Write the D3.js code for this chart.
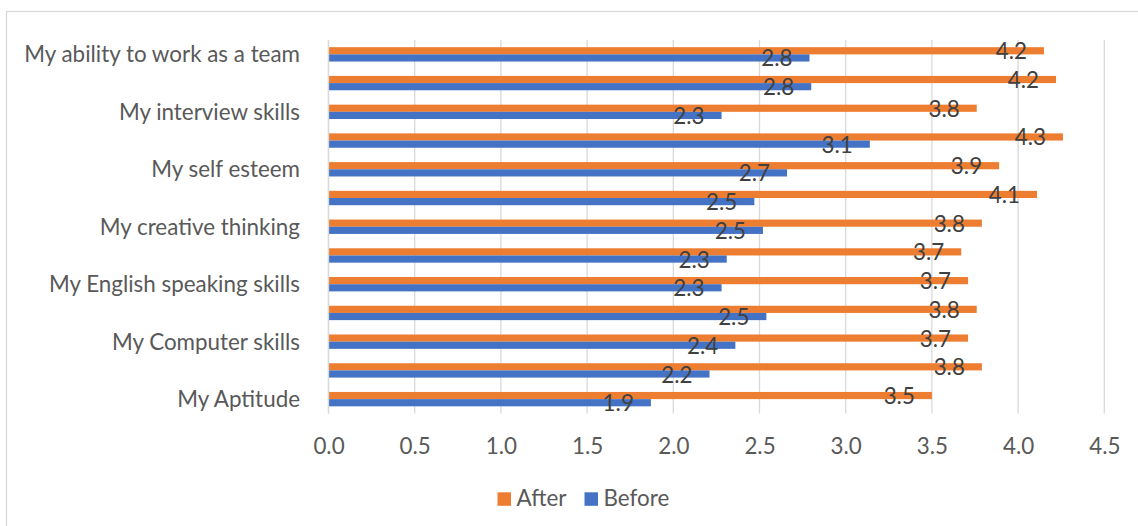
<!DOCTYPE html>
<html>
<head>
<meta charset="utf-8">
<script src="https://cdn.jsdelivr.net/npm/d3@7"></script>
<style>
  html, body { margin: 0; padding: 0; background: #fff; }
  svg { display: block; font-family: Lato, "Noto Sans", sans-serif; }
</style>
</head>
<body>
<svg id="chart" width="1138" height="526"></svg>
<script>
// Category labels (top to bottom); every other label is not shown in the original chart
const categories = [
  "My ability to work as a team", "",
  "My interview skills", "",
  "My self esteem", "",
  "My creative thinking", "",
  "My English speaking skills", "",
  "My Computer skills", "",
  "My Aptitude"
];
const seriesNames = ["After", "Before"];
const afterValues  = [4.15, 4.22, 3.76, 4.26, 3.89, 4.11, 3.79, 3.67, 3.71, 3.76, 3.71, 3.79, 3.50];
const beforeValues = [2.79, 2.80, 2.28, 3.14, 2.66, 2.47, 2.52, 2.31, 2.28, 2.54, 2.36, 2.21, 1.87];
const xTicks = [0, 0.5, 1, 1.5, 2, 2.5, 3, 3.5, 4, 4.5];

const colors = { After: "#ED7D31", Before: "#4472C4" };
const svg = d3.select("#chart");
const FS = 22.4;

// chart border
svg.append("rect")
  .attr("x", 6.5).attr("y", 11.5)
  .attr("width", 1200).attr("height", 600)
  .attr("fill", "none").attr("stroke", "#d9d9d9").attr("stroke-width", 1.3);

const plot = { left: 328.5, right: 1104.3, top: 40, bottom: 413.5 };

const x = d3.scaleLinear().domain([0, 4.5]).range([plot.left, plot.right]);
const y = d3.scaleBand()
  .domain(d3.range(categories.length))
  .range([plot.top, plot.bottom])
  .paddingInner(0.5).paddingOuter(0.25);
const ySub = d3.scaleBand().domain(seriesNames).range([0, y.bandwidth()]);

// gridlines
svg.append("g").selectAll("line").data(xTicks).join("line")
  .attr("x1", d => x(d)).attr("x2", d => x(d))
  .attr("y1", plot.top).attr("y2", plot.bottom)
  .attr("stroke", "#d9d9d9").attr("stroke-width", 1.3);

// x axis tick labels
const xAxis = d3.axisBottom(x).tickValues(xTicks).tickFormat(d3.format(".1f")).tickSize(0).tickPadding(0);
const gx = svg.append("g").attr("transform", `translate(0,${plot.bottom})`).call(xAxis);
gx.select(".domain").remove();
gx.selectAll("text")
  .attr("y", 40.5).attr("dy", null)
  .attr("font-size", FS).attr("font-family", "Lato").attr("fill", "#595959");

// y axis category labels
const yAxis = d3.axisLeft(y).tickFormat(i => categories[i]).tickSize(0).tickPadding(0);
const gy = svg.append("g").attr("transform", `translate(${plot.left - 28.5},0)`).call(yAxis);
gy.select(".domain").remove();
gy.selectAll("text")
  .attr("dy", null).attr("y", 8)
  .attr("font-size", FS).attr("font-family", "Lato").attr("fill", "#595959");

const rows = categories.map((c, i) => ({ i, After: afterValues[i], Before: beforeValues[i] }));

const groups = svg.append("g").selectAll("g").data(rows).join("g")
  .attr("transform", d => `translate(0,${y(d.i)})`);

groups.selectAll("rect").data(d => seriesNames.map(k => ({ key: k, value: d[k] }))).join("rect")
  .attr("x", x(0))
  .attr("y", d => ySub(d.key))
  .attr("width", d => x(d.value) - x(0))
  .attr("height", ySub.bandwidth())
  .attr("fill", d => colors[d.key]);

// axis line at 0
svg.append("line")
  .attr("x1", x(0)).attr("x2", x(0)).attr("y1", plot.top).attr("y2", plot.bottom)
  .attr("stroke", "#d9d9d9").attr("stroke-width", 1.3);

// data labels
groups.selectAll("text.lbl").data(d => seriesNames.map(k => ({ key: k, value: d[k] }))).join("text")
  .attr("class", "lbl")
  .attr("x", d => x(d.value) - 17)
  .attr("y", d => ySub(d.key) + ySub.bandwidth() / 2 + 8.5)
  .attr("text-anchor", "end")
  .attr("font-size", FS).attr("fill", "#404040")
  .text(d => d3.format(".1f")(d.value));

// legend
const legend = svg.append("g");
const legendItems = [
  { key: "After", sx: 497.5, tx: 516.5 },
  { key: "Before", sx: 584.5, tx: 603.5 }
];
legendItems.forEach(it => {
  legend.append("rect").attr("x", it.sx).attr("y", 492.3).attr("width", 13.5).attr("height", 13.5)
    .attr("fill", colors[it.key]);
  legend.append("text").attr("x", it.tx).attr("y", 506)
    .attr("font-size", FS).attr("fill", "#595959").text(it.key);
});
</script>
</body>
</html>
